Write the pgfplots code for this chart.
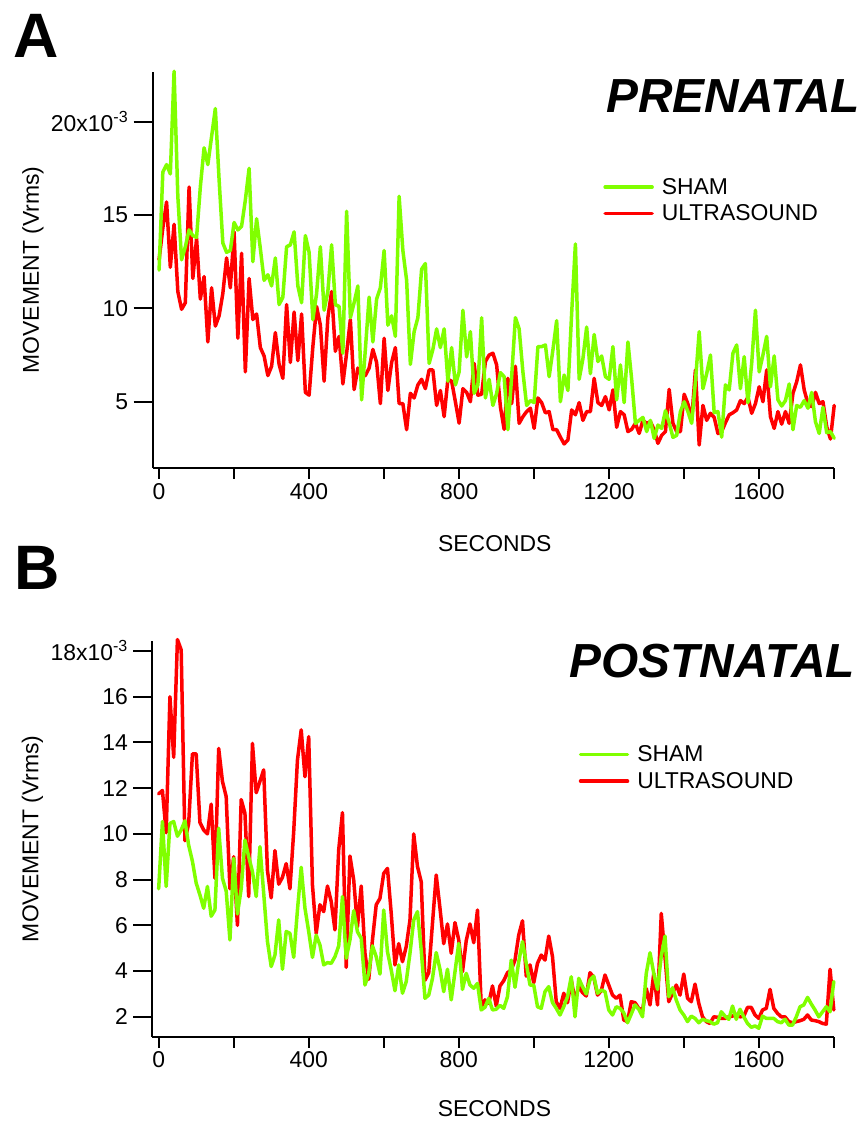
\documentclass[border=0pt]{standalone}
\usepackage{fontspec}
\setmainfont{Liberation Sans}
\usepackage{pgfplots}
\usepackage{pgfplotstable}
\pgfplotsset{compat=1.18}
\definecolor{sham}{RGB}{128,255,0}
\definecolor{us}{RGB}{255,0,0}

\pgfplotstableread{
t v
0 12.05
10 17.3
20 17.7
30 17.2
40 22.7
50 16.0
60 12.6
70 13.3
80 14.2
90 13.9
100 13.8
110 16.5
120 18.6
130 17.7
140 19.2
150 20.7
160 16.9
170 13.5
180 13.0
190 13.1
200 14.6
210 14.2
220 14.4
230 15.8
240 17.5
250 12.5
260 14.8
270 13.2
280 11.5
290 11.8
300 11.2
310 12.7
320 10.2
330 10.6
340 13.3
350 13.4
360 14.1
370 11.2
380 10.3
390 13.9
400 13.0
410 9.4
420 10.8
430 13.3
440 9.9
450 10.9
460 13.4
470 10.2
480 10.1
490 7.6
500 15.2
510 9.5
520 10.3
530 11.2
540 5.1
550 7.8
560 10.6
570 8.2
580 10.5
590 11.1
600 13.1
610 9.1
620 9.6
630 8.5
640 16.0
650 13.1
660 11.5
670 7.0
680 8.75
690 9.5
700 12.1
710 12.4
720 7.05
730 7.8
740 8.9
750 7.9
760 8.9
770 6.1
780 7.9
790 5.9
800 6.6
810 9.9
820 7.4
830 8.75
840 5.45
850 5.9
860 9.5
870 5.2
880 6.2
890 4.8
900 5.45
910 6.56
920 6.34
930 3.5
940 6.34
950 9.5
960 8.9
970 6.6
980 4.8
990 5.06
1000 4.95
1010 7.95
1020 7.95
1030 8.04
1040 6.34
1050 7.77
1060 9.34
1070 5.0
1080 6.43
1090 5.6
1100 9.74
1110 13.45
1120 6.2
1130 7.3
1140 9.0
1150 6.5
1160 8.6
1170 7.15
1180 7.45
1190 6.34
1200 6.2
1210 7.95
1220 5.1
1230 6.97
1240 4.95
1250 8.2
1260 6.2
1270 3.84
1280 4.0
1290 4.16
1300 3.4
1310 4.0
1320 3.04
1330 3.75
1340 3.57
1350 4.52
1360 3.88
1370 3.09
1380 3.2
1390 4.47
1400 5.0
1410 4.47
1420 3.84
1430 6.07
1440 8.75
1450 5.7
1460 6.5
1470 7.5
1480 4.41
1490 4.47
1500 3.1
1510 5.9
1520 5.63
1530 7.6
1540 8.04
1550 5.7
1560 7.41
1570 4.95
1580 7.06
1590 9.9
1600 6.6
1610 7.5
1620 8.5
1630 5.8
1640 7.45
1650 5.1
1660 4.77
1670 5.06
1680 5.95
1690 3.5
1700 4.8
1710 4.7
1720 5.06
1730 4.65
1740 5.5
1750 3.93
1760 3.3
1770 4.7
1780 3.34
1790 3.4
1800 3.04
}\preSham

\pgfplotstableread{
t v
0 12.6
10 14.3
20 15.7
30 12.2
40 14.5
50 10.9
60 9.95
70 10.3
80 16.5
90 11.6
100 13.75
110 10.5
120 11.7
130 8.2
140 11.1
150 9.05
160 9.6
170 10.8
180 12.7
190 11.1
200 14.1
210 8.4
220 12.95
230 6.6
240 11.6
250 9.4
260 9.7
270 7.9
280 7.45
290 6.4
300 6.9
310 8.7
320 7.0
330 6.25
340 10.2
350 7.1
360 9.8
370 7.2
380 9.7
390 5.5
400 5.35
410 7.95
420 10.1
430 9.1
440 6.1
450 9.5
460 10.9
470 7.7
480 8.5
490 5.95
500 7.6
510 9.4
520 5.65
530 6.8
540 6.4
550 6.4
560 6.8
570 7.8
580 7.1
590 4.9
600 8.4
610 5.6
620 7.1
630 7.9
640 4.9
650 4.9
660 3.5
670 5.45
680 5.2
690 5.9
700 6.2
710 5.7
720 6.7
730 6.7
740 4.8
750 5.6
760 4.2
770 6.2
780 6.1
790 5.0
800 3.85
810 5.7
820 5.5
830 5.0
840 7.05
850 5.35
860 5.4
870 7.15
880 7.5
890 7.6
900 6.97
910 4.73
920 3.52
930 6.25
940 4.9
950 6.9
960 3.84
970 4.2
980 4.47
990 4.65
1000 3.57
1010 5.2
1020 4.95
1030 4.4
1040 4.47
1050 3.5
1060 3.5
1070 3.1
1080 2.74
1090 2.95
1100 4.56
1110 4.3
1120 4.95
1130 4.0
1140 4.47
1150 4.47
1160 6.25
1170 4.95
1180 4.8
1190 5.27
1200 4.56
1210 5.63
1220 3.63
1230 4.47
1240 4.3
1250 3.4
1260 3.52
1270 3.84
1280 3.3
1290 4.0
1300 3.84
1310 3.93
1320 3.5
1330 2.77
1340 3.2
1350 3.4
1360 5.66
1370 3.84
1380 3.4
1390 3.4
1400 5.4
1410 4.88
1420 4.0
1430 6.7
1440 2.68
1450 4.8
1460 4.0
1470 4.38
1480 4.16
1490 3.3
1500 3.4
1510 3.88
1520 4.3
1530 4.41
1540 4.56
1550 5.06
1560 4.9
1570 5.24
1580 4.38
1590 4.9
1600 5.8
1610 5.0
1620 6.7
1630 4.2
1640 3.57
1650 4.47
1660 3.8
1670 4.47
1680 3.84
1690 5.45
1700 6.07
1710 6.97
1720 5.63
1730 4.9
1740 4.74
1750 5.5
1760 4.9
1770 5.0
1780 3.66
1790 3.0
1800 4.8
}\preUS

\pgfplotstableread{
t v
0 7.6
10 10.54
20 7.7
30 10.46
40 10.54
50 9.9
60 10.17
70 10.57
80 9.5
90 8.8
100 7.85
110 7.33
120 6.75
130 7.7
140 6.4
150 6.67
160 10.25
170 8.06
180 7.5
190 5.36
200 8.93
210 6.5
220 7.6
230 9.73
240 9.0
250 8.35
260 7.26
270 9.44
280 7.4
290 5.3
300 4.2
310 4.7
320 6.24
330 4.08
340 5.73
350 5.65
360 4.6
370 6.67
380 8.54
390 6.75
400 5.73
410 4.6
420 5.57
430 5.14
440 4.27
450 4.37
460 4.34
470 4.63
480 5.1
490 7.26
500 4.56
510 5.36
520 6.64
530 5.72
540 5.43
550 3.39
560 3.9
570 5.1
580 4.63
590 3.87
600 6.67
610 4.85
620 4.05
630 3.14
640 4.27
650 3.03
660 3.54
670 4.78
680 6.23
690 6.6
700 4.92
710 2.81
720 2.95
730 3.68
740 4.81
750 4.08
760 3.1
770 4.08
780 2.74
790 3.97
800 5.21
810 3.2
820 3.9
830 3.39
840 3.25
850 3.46
860 2.3
870 2.42
880 2.81
890 2.3
900 2.33
910 2.5
920 2.37
930 2.88
940 4.48
950 3.29
960 4.41
970 5.29
980 4.34
990 3.39
1000 3.39
1010 2.44
1020 2.37
1030 3.1
1040 3.32
1050 2.62
1060 2.37
1070 2.08
1080 2.44
1090 2.88
1100 3.75
1110 2.0
1120 3.68
1130 3.32
1140 3.0
1150 3.61
1160 3.78
1170 3.03
1180 3.17
1190 3.1
1200 2.3
1210 2.08
1220 2.44
1230 2.37
1240 2.18
1250 1.74
1260 2.12
1270 2.52
1280 2.33
1290 2.0
1300 3.9
1310 4.8
1320 3.9
1330 3.2
1340 4.66
1350 5.53
1360 2.88
1370 3.27
1380 2.73
1390 2.3
1400 2.08
1410 1.79
1420 2.03
1430 1.93
1440 1.74
1450 1.89
1460 1.83
1470 1.79
1480 1.68
1490 1.74
1500 2.22
1510 2.03
1520 1.89
1530 2.47
1540 1.89
1550 2.33
1560 2.0
1570 1.71
1580 1.54
1590 1.6
1600 1.5
1610 2.03
1620 1.93
1630 1.93
1640 1.93
1650 1.79
1660 1.74
1670 1.89
1680 1.64
1690 1.64
1700 2.0
1710 2.44
1720 2.52
1730 2.85
1740 2.56
1750 2.3
1760 2.0
1770 2.22
1780 2.44
1790 2.22
1800 3.54
}\postSham

\pgfplotstableread{
t v
0 11.75
10 11.9
20 10.05
30 16.0
40 13.35
50 18.5
60 18.05
70 9.7
80 10.46
90 13.5
100 13.5
110 10.5
120 10.17
130 10.0
140 11.3
150 8.06
160 13.74
170 12.3
180 11.63
190 7.6
200 9.0
210 6.0
220 11.5
230 10.9
240 7.26
250 13.96
260 11.8
270 12.3
280 12.8
290 8.4
300 7.2
310 9.27
320 7.8
330 8.1
340 8.7
350 7.6
360 10.1
370 13.23
380 14.55
390 12.5
400 14.25
410 7.77
420 5.65
430 6.9
440 6.6
450 7.72
460 7.04
470 5.8
480 9.3
490 10.93
500 4.16
510 9.03
520 7.98
530 5.94
540 7.72
550 4.78
560 3.64
570 5.36
580 6.9
590 7.18
600 8.27
610 8.49
620 6.53
630 4.27
640 5.2
650 4.41
660 5.07
670 6.23
680 10.0
690 8.57
700 7.91
710 3.6
720 3.93
730 6.09
740 8.2
750 6.75
760 5.2
770 6.06
780 4.78
790 6.12
800 5.36
810 3.97
820 5.33
830 6.06
840 5.24
850 6.67
860 2.44
870 2.74
880 2.59
890 3.35
900 2.47
910 3.35
920 3.58
930 3.93
940 4.05
950 4.48
960 5.58
970 6.2
980 3.78
990 4.27
1000 3.49
1010 4.34
1020 4.7
1030 4.48
1040 5.53
1050 4.63
1060 2.66
1070 2.37
1080 3.03
1090 2.62
1100 3.61
1110 2.73
1120 3.32
1130 3.06
1140 2.91
1150 3.93
1160 3.73
1170 2.95
1180 3.14
1190 3.83
1200 3.39
1210 2.95
1220 2.81
1230 2.95
1240 1.86
1250 1.79
1260 2.66
1270 2.62
1280 2.37
1290 2.3
1300 3.24
1310 2.52
1320 3.9
1330 2.52
1340 6.52
1350 4.6
1360 2.66
1370 3.03
1380 3.39
1390 2.95
1400 3.87
1410 2.81
1420 2.66
1430 3.43
1440 2.59
1450 2.0
1460 1.79
1470 1.71
1480 2.0
1490 1.98
1500 1.93
1510 1.93
1520 2.0
1530 2.03
1540 2.12
1550 2.0
1560 2.03
1570 2.41
1580 2.41
1590 2.08
1600 1.93
1610 2.3
1620 2.37
1630 3.2
1640 2.37
1650 2.15
1660 2.0
1670 2.0
1680 1.79
1690 1.74
1700 1.79
1710 1.83
1720 1.89
1730 2.08
1740 1.86
1750 1.83
1760 1.79
1770 1.71
1780 1.68
1790 4.08
1800 2.3
}\postUS

\newcommand{\lblfont}{\fontsize{23}{27}\selectfont}

\pgfplotsset{
  frame/.style={
    scale only axis,
    width=681.5bp, height=396bp,
    xmin=-17, xmax=1800,
    clip=false,
    axis lines=left,
    axis line style={-, line width=2bp, black},
    every outer x axis line/.append style={-},
    every outer y axis line/.append style={-},
    tick align=outside,
    every tick/.style={black, line width=2bp},
    tick label style={font=\lblfont},
  },
  panel/.style={
    frame,
    major tick length=11bp, minor tick length=11bp,
    xtick={0,400,800,1200,1600},
    xticklabels={0,400,800,1200,1600},
    minor xtick={200,600,1000,1400,1800},
    ytick=\empty,
    xticklabel style={inner sep=2bp, yshift=-2bp},
    xlabel={SECONDS},
    ylabel={MOVEMENT (Vrms)},
    every axis y label/.style={at={(rel axis cs:-0.1757,0.5)}, rotate=90, anchor=center, font=\lblfont},
    legend style={draw=none, fill=none, font=\lblfont, anchor=north west,
                  inner sep=0pt, row sep=5bp, column sep=6bp, nodes={inner sep=2bp}},
    legend cell align=left,
    legend image code/.code={\draw[#1, line width=3.5bp] (0bp,0bp) -- (47bp,0bp);},
    reverse legend,
  },
  yframe/.style={
    frame,
    xtick=\empty,
    major tick length=19bp,
    yticklabel style={xshift=-2bp},
  },
  dline/.style={line width=3.5bp, line join=round, line cap=round, mark=none},
}

\begin{document}
\begin{tikzpicture}
\useasboundingbox (0,0) rectangle (862bp,1122bp);

% ---------- Panel A ----------
\begin{axis}[panel,
  at={(152.7bp,654bp)}, anchor=south west,
  ymin=1.45, ymax=22.66,
  every axis x label/.style={at={(rel axis cs:0.502,-0.19)}, anchor=center, font=\lblfont},
  legend style={at={(rel axis cs:0.661,0.737)}},
]
\addplot[dline, color=us] table[x=t, y=v] {\preUS};
\addlegendentry{ULTRASOUND}
\addplot[dline, color=sham] table[x=t, y=v] {\preSham};
\addlegendentry{SHAM}
\end{axis}
\begin{axis}[yframe,
  at={(152.7bp,654bp)}, anchor=south west,
  ymin=1.45, ymax=22.66,
  ytick={5,10,15,20},
  yticklabels={5,10,15,{20x10\textsuperscript{-3}}},
]
\end{axis}

% ---------- Panel B ----------
\begin{axis}[panel,
  at={(152.3bp,85.3bp)}, anchor=south west,
  ymin=1.13, ymax=18.45,
  every axis x label/.style={at={(rel axis cs:0.502,-0.181)}, anchor=center, font=\lblfont},
  legend style={at={(rel axis cs:0.6255,0.740)}},
]
\addplot[dline, color=us] table[x=t, y=v] {\postUS};
\addlegendentry{ULTRASOUND}
\addplot[dline, color=sham] table[x=t, y=v] {\postSham};
\addlegendentry{SHAM}
\end{axis}
\begin{axis}[yframe,
  at={(152.3bp,85.3bp)}, anchor=south west,
  ymin=1.13, ymax=18.45,
  ytick={2,4,6,8,10,12,14,16,18},
  yticklabels={2,4,6,8,10,12,14,16,{18x10\textsuperscript{-3}}},
]
\end{axis}

% Titles and panel letters
\node[anchor=base east, inner sep=0pt, font=\fontsize{48}{52}\selectfont\bfseries\itshape] at (860bp,1009bp) {PRENATAL};
\node[anchor=base east, inner sep=0pt, font=\fontsize{48}{52}\selectfont\bfseries\itshape] at (855bp,444bp) {POSTNATAL};
\node[anchor=base west, inner sep=0pt, font=\fontsize{63}{66}\selectfont\bfseries] at (13bp,1064bp) {A};
\node[anchor=base west, inner sep=0pt, font=\fontsize{63}{66}\selectfont\bfseries] at (14bp,532bp) {B};
\end{tikzpicture}
\end{document}
